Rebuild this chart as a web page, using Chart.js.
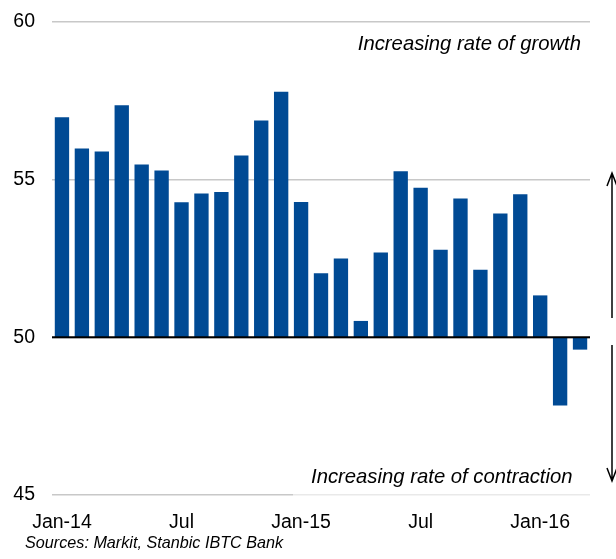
<!DOCTYPE html>
<html>
<head>
<meta charset="utf-8">
<script src="https://cdn.jsdelivr.net/npm/chart.js@4/dist/chart.umd.min.js"></script>
<style>
html,body{margin:0;padding:0;background:#fff;}
canvas{display:block;}
</style>
</head>
<body>
<canvas id="c" width="616" height="559"></canvas>
<script>
const categories = ["Jan-14","Feb-14","Mar-14","Apr-14","May-14","Jun-14","Jul-14","Aug-14","Sep-14","Oct-14","Nov-14","Dec-14",
  "Jan-15","Feb-15","Mar-15","Apr-15","May-15","Jun-15","Jul-15","Aug-15","Sep-15","Oct-15","Nov-15","Dec-15",
  "Jan-16","Feb-16","Mar-16"];
const pmiValues = [56.98,55.99,55.89,57.36,55.48,55.29,54.28,54.56,54.61,55.77,56.88,57.79,
  54.29,52.03,52.50,50.52,52.69,55.27,54.74,52.78,54.40,52.14,53.93,54.54,
  51.33,47.84,49.61];
const baseline = 50;
const yTicks = [45,50,55,60];
const growthNote = "Increasing rate of growth";
const contractionNote = "Increasing rate of contraction";
const sourceNote = "Sources: Markit, Stanbic IBTC Bank";

const FONT = '"Liberation Sans", Arial, sans-serif';

const extras = {
  id: 'extras',
  afterDatasetsDraw(chart) {
    const {ctx, chartArea} = chart;
    const y = chart.scales.y.getPixelForValue(baseline);
    ctx.save();
    ctx.strokeStyle = '#000';
    ctx.lineWidth = 2;
    ctx.beginPath();
    ctx.moveTo(chartArea.left, y);
    ctx.lineTo(chartArea.right, y);
    ctx.stroke();
    ctx.restore();
  },
  afterDraw(chart) {
    const {ctx} = chart;
    ctx.save();
    ctx.fillStyle = 'rgba(255,255,255,0.6)';
    ctx.fillRect(293, 458, 323, 40);
    ctx.fillStyle = '#000';
    ctx.font = 'italic 20.3px ' + FONT;
    ctx.textBaseline = 'alphabetic';
    ctx.textAlign = 'right';
    ctx.fillText(growthNote, 581, 50);
    ctx.textAlign = 'left';
    ctx.fillText(contractionNote, 311, 483);
    ctx.font = 'italic 16.2px ' + FONT;
    ctx.fillText(sourceNote, 25, 548);
    ctx.strokeStyle = '#000';
    ctx.lineWidth = 1.5;
    const ax = 612;
    ctx.beginPath();
    ctx.moveTo(ax, 318); ctx.lineTo(ax, 173);
    ctx.moveTo(ax - 5, 186); ctx.lineTo(ax, 173); ctx.lineTo(ax + 5, 186);
    ctx.moveTo(ax, 345); ctx.lineTo(ax, 481);
    ctx.moveTo(ax - 5, 468); ctx.lineTo(ax, 481); ctx.lineTo(ax + 5, 468);
    ctx.stroke();
    ctx.restore();
  }
};

new Chart(document.getElementById('c'), {
  type: 'bar',
  data: {
    labels: categories,
    datasets: [{
      data: pmiValues.map(v => [baseline, v]),
      backgroundColor: '#004a94',
      borderWidth: 0,
      categoryPercentage: 0.72,
      barPercentage: 1.0
    }]
  },
  options: {
    responsive: false,
    animation: false,
    devicePixelRatio: 1,
    layout: { padding: { top: 22, right: 26, bottom: 0, left: 0 } },
    plugins: { legend: { display: false }, tooltip: { enabled: false } },
    scales: {
      x: {
        grid: { display: false, drawTicks: false },
        border: { display: false },
        afterFit(s) { s.height = 64; },
        ticks: {
          autoSkip: false, maxRotation: 0, minRotation: 0, padding: 16,
          color: '#000', font: { family: FONT, size: 19.5 },
          callback(val, i) {
            const c = categories[i];
            if (c.startsWith('Jan')) return c;
            if (c.startsWith('Jul')) return 'Jul';
            return '';
          }
        }
      },
      y: {
        min: 45, max: 60,
        afterFit(s) { s.width = 52; s.paddingTop = 0; s.paddingBottom = 0; },
        afterBuildTicks(s) { s.ticks = yTicks.map(v => ({value: v})); },
        grid: {
          drawTicks: false,
          color: 'rgb(200,200,200)',
          lineWidth: 1.5
        },
        border: { display: false },
        ticks: { padding: 17, color: '#000', font: { family: FONT, size: 19.5 } }
      }
    }
  },
  plugins: [extras]
});
</script>
</body>
</html>
